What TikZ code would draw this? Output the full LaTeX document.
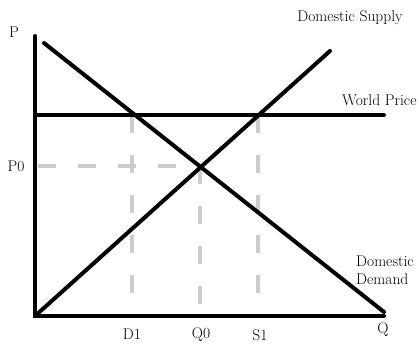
\documentclass[tikz,border=0pt]{standalone}
\begin{document}
\begin{tikzpicture}[x=1pt, y=-1pt,
  curve/.style={line width=4pt, line cap=round},
  guide/.style={line width=4pt, gray!40, dash pattern=on 18pt off 22pt},
  lbl/.style={font=\fontsize{15.5}{18}\selectfont, inner sep=1pt}
]
\useasboundingbox (0,0) rectangle (420,345);

% ---- key points ----
\coordinate (O)    at (35,316);
\coordinate (Ptop) at (35,36);
\coordinate (Qend) at (384,316);
\coordinate (Wl)   at (35,115);
\coordinate (Wr)   at (384,115);
\coordinate (E)    at (200,166);
\coordinate (A)    at (132,115);
\coordinate (B)    at (258,115);

% ---- guide lines ----
\draw[guide] (38,166) -- (E);
\draw[guide] (A) -- (132,300);
\draw[guide] (E) -- (200,316);
\draw[guide] (B) -- (258,306);

% ---- axes ----
\draw[curve] (Ptop) -- (O) -- (Qend);

% ---- world price ----
\draw[curve] (Wl) -- (Wr);

% ---- demand and supply ----
\draw[curve] (44,43) -- (384,312);
\draw[curve] (O) -- (330,51);

% ---- labels ----
\node[lbl] (p)  at (14,32)  {P};
\node[lbl] (p0) at (16,166) {P0};
\node[lbl] (d1) at (132,334) {D1};
\node[lbl] (q0) at (201,335) {Q0};
\node[lbl] (s1) at (260,335) {S1};
\node[lbl] (q)  at (383,330) {Q};
\node[lbl] (supply) at (350,18) {Domestic Supply};
\node[lbl, anchor=west] (world) at (341,100) {World Price};
\node[lbl, anchor=west, align=left] (demand) at (355,270) {Domestic\\Demand};
\end{tikzpicture}
\end{document}
